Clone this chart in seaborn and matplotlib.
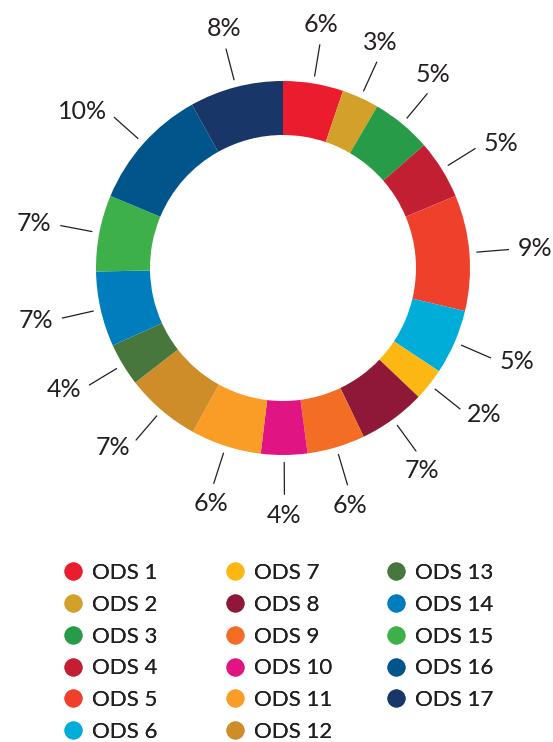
import numpy as np
import matplotlib.pyplot as plt
from matplotlib.lines import Line2D
import seaborn as sns

goals = ['ODS 1', 'ODS 2', 'ODS 3', 'ODS 4', 'ODS 5', 'ODS 6', 'ODS 7', 'ODS 8', 'ODS 9',
         'ODS 10', 'ODS 11', 'ODS 12', 'ODS 13', 'ODS 14', 'ODS 15', 'ODS 16', 'ODS 17']
shares = [5.2, 3.2, 5.2, 5.1, 10.0, 5.6, 2.8, 5.8, 5.0, 4.0, 6.1, 6.5, 3.7, 6.5, 6.6, 10.6, 8.1]
pct_labels = ['6%', '3%', '5%', '5%', '9%', '5%', '2%', '7%', '6%',
              '4%', '6%', '7%', '4%', '7%', '7%', '10%', '8%']
goal_colors = ['#EB1C2D', '#D3A029', '#279B48', '#C31F33', '#EF402B', '#00ADD8', '#FDB713',
               '#8F1838', '#F36D25', '#E11484', '#F99D26', '#CF8D2A', '#48773E', '#007DBC',
               '#3EB049', '#02558B', '#183668']

sns.set_theme(style='white')
plt.rcParams['font.family'] = ['Lato', 'DejaVu Sans']
text_color = '#231f20'
palette = sns.color_palette(goal_colors)

W, H = 553, 742
fig = plt.figure(figsize=(W / 100, H / 100), dpi=100)
cx, cy, R = 283, 268, 187
ax = fig.add_axes([(cx - R) / W, (H - cy - R) / H, 2 * R / W, 2 * R / H])

wedges, _ = ax.pie(shares, colors=palette, startangle=90, counterclock=False,
                   radius=1.0, wedgeprops=dict(width=54 / R, linewidth=0))
ax.set_xlim(-1, 1)
ax.set_ylim(-1, 1)
ax.set_aspect('equal')
ax.axis('off')

# leader lines and percentage labels at slice midpoints
for w, lab in zip(wedges, pct_labels):
    ang = np.deg2rad((w.theta1 + w.theta2) / 2)
    ux, uy = np.cos(ang), np.sin(ang)
    ax.plot([1.04 * ux, 1.21 * ux], [1.04 * uy, 1.21 * uy], color=text_color,
            lw=0.9, clip_on=False)
    if abs(ux) > 0.645:
        ha, va = ('left' if ux > 0 else 'right'), 'center'
    else:
        ha, va = 'center', ('bottom' if uy > 0 else 'top')
    ax.text(1.26 * ux, 1.26 * uy, lab, ha=ha, va=va,
            fontsize=18, color=text_color, clip_on=False)

# legend: three fixed columns, filled top to bottom
col_x = [64, 226, 387]
for i, x0 in enumerate(col_x):
    idx = range(6 * i, min(6 * i + 6, len(goals)))
    handles = [Line2D([], [], marker='o', ls='none', markersize=13, markeredgewidth=0,
                      color=palette[k]) for k in idx]
    leg = fig.legend(handles, [goals[k] for k in idx], loc='upper left',
                     bbox_to_anchor=(x0 / W, 1 - 563 / H), frameon=False, fontsize=16,
                     handlelength=0.8, handletextpad=0.45, labelspacing=0.53,
                     labelcolor=text_color, borderpad=0, borderaxespad=0)
    fig.add_artist(leg)

fig.savefig('out.png', dpi=100)
